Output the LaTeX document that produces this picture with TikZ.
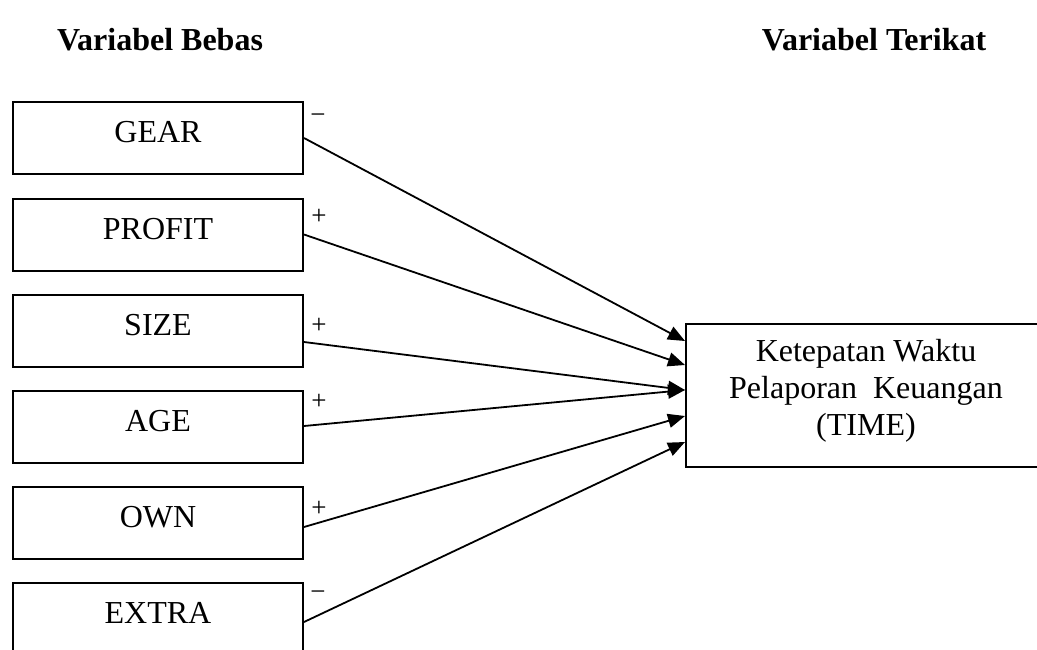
\documentclass[tikz,border=0pt]{standalone}
\usepackage{fontspec}
\setmainfont{Liberation Serif}
\usetikzlibrary{arrows.meta,calc}
\begin{document}
\begin{tikzpicture}[x=1pt,y=-1pt,
 box/.style={draw,line width=2pt,minimum width=290pt,minimum height=72pt,inner sep=0pt,
   font=\fontsize{32}{37}\selectfont,text height=22pt,text depth=13pt},
 head/.style={font=\fontsize{32}{38}\selectfont\bfseries,inner sep=0pt},
 sign/.style={font=\fontsize{27}{30}\selectfont,inner sep=0pt,text height=19pt,text depth=5.5pt},
 link/.style={line width=1.8pt,-{Triangle[length=17pt,width=14pt]}}]
\useasboundingbox (0,0) rectangle (1037,649);
\clip (0,0) rectangle (1037,649);
\node[head] (hb) at (160,40) {Variabel Bebas};
\node[head] (ht) at (874,40) {Variabel Terikat};
\node[box] (gear) at (158,138) {GEAR};
\node[box] (profit) at (158,234.5) {PROFIT};
\node[box] (size) at (158,331) {SIZE};
\node[box] (age) at (158,427) {AGE};
\node[box] (own) at (158,522.5) {OWN};
\node[box] (extra) at (158,619) {EXTRA};
\node[draw,line width=2pt,minimum width=360pt,minimum height=143pt,inner sep=0pt] (time) at (866,395.5) {};
\node[align=center,font=\fontsize{32}{37}\selectfont,inner sep=0pt] (timetxt) at (866,391) {Ketepatan Waktu\\Pelaporan~ Keuangan\\(TIME)};
\draw[link] (gear.east) -- ($(time.west)+(0,-54.5)$);
\draw[link] (profit.east) -- ($(time.west)+(0,-30.5)$);
\draw[link] ($(size.east)+(0,11)$) -- ($(time.west)+(0,-5.5)$);
\draw[link] ($(age.east)+(0,-1)$) -- ($(time.west)+(0,-5.5)$);
\draw[link] ($(own.east)+(0,4.5)$) -- ($(time.west)+(0,20.5)$);
\draw[link] ($(extra.east)+(0,3)$) -- ($(time.west)+(0,46.5)$);
\node[sign] (s1) at (318,117) {−};
\node[sign] (s2) at (319,218) {+};
\node[sign] (s3) at (319,327) {+};
\node[sign] (s4) at (319,403) {+};
\node[sign] (s5) at (319,510) {+};
\node[sign] (s6) at (318,594) {−};
\end{tikzpicture}
\end{document}
